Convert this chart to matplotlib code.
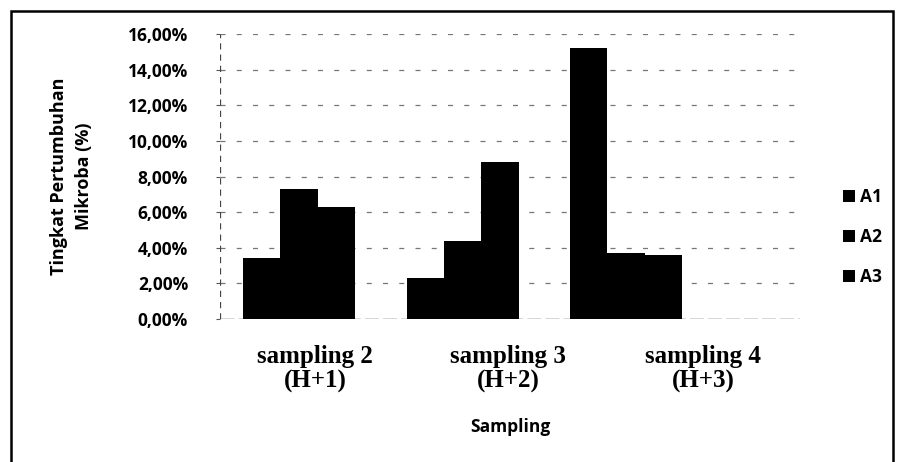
import matplotlib
matplotlib.use("Agg")
import matplotlib.pyplot as plt
import numpy as np
from matplotlib.patches import Rectangle
from matplotlib.ticker import FuncFormatter

# Data (percent)
categories = ["sampling 2\n(H+1)", "sampling 3\n(H+2)", "sampling 4\n(H+3)"]
series_names = ["A1", "A2", "A3"]
a1 = [3.4, 2.3, 15.2]
a2 = [7.3, 4.4, 3.7]
a3 = [6.3, 8.8, 3.6]
y_ticks = [0, 2, 4, 6, 8, 10, 12, 14, 16]

# labels in the scan sit a bit right of the bar groups
label_shift = [0.10, 0.28, 0.47]

sans = "Open Sans"
serif = "Liberation Serif"

fig = plt.figure(figsize=(9.02, 4.62), dpi=100)
ax = fig.add_axes([220/902, 1 - 319/462, 580/902, 285/462])

x = np.arange(len(categories))
w = 0.228
for i, vals in enumerate([a1, a2, a3]):
    ax.bar(x + (i - 1)*w, vals, width=w, color="black", label=series_names[i],
           zorder=3)

ax.set_xlim(-0.483, 3.063)
ax.set_ylim(0, 16)
ax.set_yticks(y_ticks)
ax.yaxis.set_major_formatter(FuncFormatter(lambda v, p: f"{v:.2f}%".replace(".", ",")))
for lab in ax.get_yticklabels():
    lab.set_fontfamily(sans)
    lab.set_fontweight("bold")
    lab.set_fontsize(12.5)
ax.tick_params(axis="y", length=3, width=0.8, pad=20, color="#555555")

ax.set_xticks(x + np.array(label_shift))
ax.set_xticklabels(categories, fontfamily=serif, fontweight="bold",
                   fontsize=18, linespacing=1.05)
ax.tick_params(axis="x", length=0, pad=19)

# dashed gridlines and axes
for yv in y_ticks[1:]:
    ax.axhline(yv, color="#777777", lw=0.9, ls=(0, (4, 9)), zorder=1)
for s in ["top", "right", "bottom", "left"]:
    ax.spines[s].set_visible(False)
ax.axvline(-0.483, color="#444444", lw=0.9, ls=(0, (5, 4)), zorder=2)
ax.axhline(0, color="#333333", lw=1.0, ls=(0, (10, 3)), zorder=2)

# axis titles
fig.text(72/902, 1 - 176/462, "Tingkat Pertumbuhan\nMikroba (%)", rotation=90,
         ha="center", va="center", fontfamily=sans, fontweight="bold",
         fontsize=13, linespacing=1.5)
fig.text(510/902, 1 - 427/462, "Sampling", ha="center", va="center",
         fontfamily=sans, fontweight="bold", fontsize=12.5)

leg = ax.legend(loc="center left", bbox_to_anchor=(834/902, 1 - 237/462),
                bbox_transform=fig.transFigure, frameon=False,
                prop={"family": sans, "weight": "bold", "size": 12.5},
                handlelength=0.7, handleheight=0.7, handletextpad=0.3,
                labelspacing=1.25, borderpad=0)

# frame around the whole chart
fig.patches.append(Rectangle((11/902, -0.02), 882/902, 1 - 11/462 + 0.02,
                             transform=fig.transFigure, fill=False,
                             edgecolor="black", lw=1.8))

fig.savefig("out.png", dpi=100)
